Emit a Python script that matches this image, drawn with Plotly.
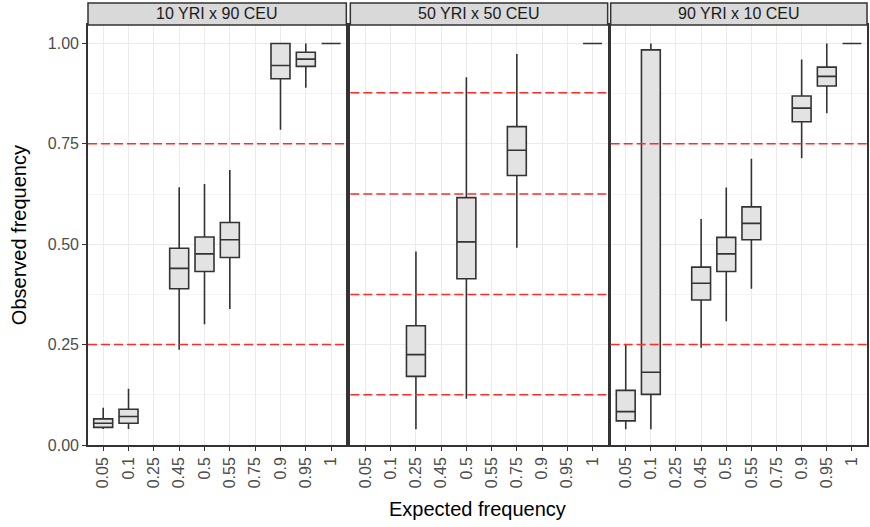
import plotly.graph_objects as go
from plotly.subplots import make_subplots

categories = ["0.05", "0.1", "0.25", "0.45", "0.5", "0.55", "0.75", "0.9", "0.95", "1"]
panels = ["10 YRI x 90 CEU", "50 YRI x 50 CEU", "90 YRI x 10 CEU"]

# Panel 1: 10 YRI x 90 CEU
p1_x = ["0.05", "0.1", "0.45", "0.5", "0.55", "0.9", "0.95", "1"]
p1_lo = [0.040, 0.040, 0.237, 0.301, 0.339, 0.785, 0.890, 1.0]
p1_q1 = [0.044, 0.054, 0.389, 0.432, 0.467, 0.912, 0.943, 1.0]
p1_med = [0.054, 0.071, 0.440, 0.476, 0.511, 0.945, 0.961, 1.0]
p1_q3 = [0.065, 0.089, 0.490, 0.518, 0.554, 1.0, 0.978, 1.0]
p1_hi = [0.0925, 0.140, 0.642, 0.650, 0.685, 1.0, 1.0, 1.0]
p1_lines = [0.25, 0.75]

# Panel 2: 50 YRI x 50 CEU
p2_x = ["0.25", "0.5", "0.75", "1"]
p2_lo = [0.039, 0.115, 0.491, 1.0]
p2_q1 = [0.171, 0.414, 0.671, 1.0]
p2_med = [0.225, 0.506, 0.734, 1.0]
p2_q3 = [0.297, 0.616, 0.793, 1.0]
p2_hi = [0.482, 0.916, 0.974, 1.0]
p2_lines = [0.125, 0.375, 0.625, 0.877]

# Panel 3: 90 YRI x 10 CEU
p3_x = ["0.05", "0.1", "0.45", "0.5", "0.55", "0.9", "0.95", "1"]
p3_lo = [0.039, 0.039, 0.242, 0.308, 0.389, 0.714, 0.826, 1.0]
p3_q1 = [0.060, 0.126, 0.361, 0.432, 0.511, 0.805, 0.894, 1.0]
p3_med = [0.083, 0.181, 0.403, 0.476, 0.552, 0.839, 0.918, 1.0]
p3_q3 = [0.136, 0.984, 0.443, 0.517, 0.593, 0.869, 0.941, 1.0]
p3_hi = [0.249, 1.0, 0.563, 0.641, 0.713, 0.960, 1.0, 1.0]
p3_lines = [0.25, 0.75]

data = [
    (p1_x, p1_lo, p1_q1, p1_med, p1_q3, p1_hi, p1_lines),
    (p2_x, p2_lo, p2_q1, p2_med, p2_q3, p2_hi, p2_lines),
    (p3_x, p3_lo, p3_q1, p3_med, p3_q3, p3_hi, p3_lines),
]

W, H = 870, 527
ml, mr, mt, mb = 88, 1, 25, 81.5
pw = W - ml - mr
ph = H - mt - mb
edges = [(88, 347), (351, 609), (612, 869)]
domains = [[(a - ml) / pw, (b - ml) / pw] for a, b in edges]

fig = make_subplots(rows=1, cols=3, shared_yaxes=True, horizontal_spacing=0.005)

FONT = "Liberation Sans, Arial, sans-serif"
TICK = dict(family=FONT, size=16, color="#4D4D4D")
for i, (xs, lo, q1, med, q3, hi, lines) in enumerate(data):
    col = i + 1
    fig.add_trace(go.Box(
        x=xs, lowerfence=lo, q1=q1, median=med, q3=q3, upperfence=hi,
        fillcolor="#E3E3E3", line=dict(color="#333333", width=1.6),
        whiskerwidth=0, boxpoints=False, showlegend=False, hoverinfo="skip",
    ), row=1, col=col)
    xr = "x" if col == 1 else f"x{col}"
    for v in lines:
        fig.add_shape(type="line", xref=f"{xr} domain", x0=0, x1=1, yref="y", y0=v, y1=v,
                      line=dict(color="#FF2A2A", width=1.5, dash="9px,4px"), layer="above")
    # strip
    fig.add_shape(type="rect", xref=f"{xr} domain", x0=0, x1=1, yref="paper",
                  y0=1, y1=1 + 22 / ph, fillcolor="#D9D9D9",
                  line=dict(color="#333333", width=1.5), layer="above")
    fig.add_annotation(text=panels[i], xref=f"{xr} domain", x=0.5, yref="paper",
                       y=1 + 11.5 / ph, showarrow=False, yanchor="middle",
                       font=dict(family=FONT, size=16, color="#1A1A1A"))
    fig.update_xaxes(
        domain=domains[i], type="category", categoryorder="array", categoryarray=categories,
        tickvals=categories, ticktext=categories,
        range=[-0.6, 9.6], showgrid=True, gridcolor="#EBEBEB", gridwidth=1.1,
        showline=True, linecolor="#333333", linewidth=1.6, mirror=True,
        ticks="outside", ticklen=4, tickcolor="#333333", tickwidth=1.1,
        tickangle=-90, tickfont=TICK,
        zeroline=False, fixedrange=True,
        row=1, col=col)
    fig.update_yaxes(
        range=[0, 1.046], tickvals=[0, 0.25, 0.5, 0.75, 1.0],
        ticktext=["0.00", "0.25", "0.50", "0.75", "1.00"],
        showgrid=True, gridcolor="#EBEBEB", gridwidth=1.1,
        minor=dict(tick0=0, dtick=0.125, showgrid=True, gridcolor="#F4F4F4", gridwidth=0.6),
        showline=True, linecolor="#333333", linewidth=1.6, mirror=True,
        ticks="outside" if col == 1 else "", ticklen=4, tickcolor="#333333", tickwidth=1.1,
        tickfont=TICK,
        showticklabels=(col == 1), zeroline=False,
        row=1, col=col)

# axis titles
fig.add_annotation(text="Observed frequency", xref="paper", x=(19 - ml) / pw, xanchor="center",
                   yref="paper", y=0.5, yanchor="middle", textangle=-90, showarrow=False,
                   font=dict(family=FONT, size=20, color="#000000"))
fig.add_annotation(text="Expected frequency", xref="paper",
                   x=((edges[0][0] + edges[2][1]) / 2 - ml) / pw,
                   yref="paper", y=-(510 - (mt + ph)) / ph, showarrow=False, yanchor="middle",
                   font=dict(family=FONT, size=20, color="#000000"))

fig.update_layout(
    width=W, height=H, margin=dict(l=ml, r=mr, t=mt, b=mb),
    paper_bgcolor="white", plot_bgcolor="white",
    boxgap=0.25, boxgroupgap=0, font=dict(family=FONT),
)

fig.write_html("out.html")
